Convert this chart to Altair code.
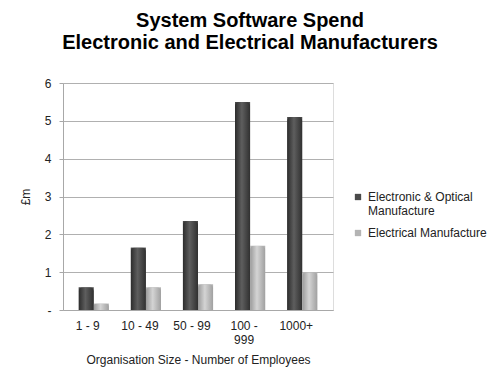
import altair as alt
import pandas as pd

categories = ["1 - 9", "10 - 49", "50 - 99", "100 - 999", "1000+"]
series = ["Electronic & Optical Manufacture", "Electrical Manufacture"]
electronic = [0.6, 1.65, 2.35, 5.5, 5.1]
electrical = [0.17, 0.6, 0.68, 1.7, 1.0]

rows = []
for c, a, b in zip(categories, electronic, electrical):
    rows.append({"size": c, "series": series[0], "value": a})
    rows.append({"size": c, "series": series[1], "value": b})
df = pd.DataFrame(rows)

FONT = "Liberation Sans"

x_enc = alt.X("size:N", sort=categories, title="Organisation Size - Number of Employees",
              scale=alt.Scale(paddingInner=0.42, paddingOuter=0.3),
              axis=alt.Axis(labelAngle=0, labelFontSize=12, labelColor="#222222", labelFont=FONT,
                            titleFontSize=12, titleFont=FONT, titleColor="#222222", titleFontWeight="normal",
                            ticks=False, domainColor="#a8a8a8", labelPadding=10, titlePadding=9,
                            labelOffset=-6,
                            labelExpr="datum.label == '100 - 999' ? ['100 -', '999'] : datum.label"))
y_enc = alt.Y("value:Q", title="£m",
              scale=alt.Scale(domain=[0, 6]),
              axis=alt.Axis(values=[0, 1, 2, 3, 4, 5, 6], labelFontSize=12, labelColor="#222222",
                            labelFont=FONT, titleFont=FONT, titleFontSize=12, titleColor="#222222",
                            titleFontWeight="normal", titlePadding=12, ticks=True, tickSize=4,
                            tickColor="#a8a8a8", domainColor="#a8a8a8", gridColor="#b0b0b0",
                            labelPadding=8,
                            labelExpr="datum.value == 0 ? '-' : datum.label"))
xo = alt.XOffset("series:N", sort=series, scale=alt.Scale(paddingInner=0))

base = alt.Chart(df).encode(x=x_enc, y=y_enc, xOffset=xo)

legend_layer = base.mark_bar().encode(
    color=alt.Color("series:N", sort=series, title=None,
                    scale=alt.Scale(domain=series, range=["#4a4a4a", "#b4b4b4"]),
                    legend=alt.Legend(orient="none", legendX=289, legendY=108, symbolType="square",
                                      symbolSize=40, labelFontSize=12, labelFont=FONT,
                                      labelColor="#222222", rowPadding=10, symbolStrokeWidth=0,
                                      labelExpr="datum.label == 'Electronic & Optical Manufacture' ? ['Electronic & Optical', 'Manufacture'] : datum.label"))
)

dark_grad = alt.Gradient(gradient="linear", x1=0, x2=1, y1=0, y2=0,
                         stops=[alt.GradientStop(color="#2c2c2c", offset=0),
                                alt.GradientStop(color="#5e5e5e", offset=0.45),
                                alt.GradientStop(color="#303030", offset=1)])
light_grad = alt.Gradient(gradient="linear", x1=0, x2=1, y1=0, y2=0,
                          stops=[alt.GradientStop(color="#9a9a9a", offset=0),
                                 alt.GradientStop(color="#d4d4d4", offset=0.45),
                                 alt.GradientStop(color="#a0a0a0", offset=1)])

dark_layer = base.transform_filter(alt.datum.series == series[0]).mark_bar(
    color=dark_grad, cornerRadiusTopLeft=4, cornerRadiusTopRight=4)
light_layer = base.transform_filter(alt.datum.series == series[1]).mark_bar(
    color=light_grad, cornerRadiusTopLeft=4, cornerRadiusTopRight=4)

chart = alt.layer(legend_layer, dark_layer, light_layer).properties(
    width=270, height=227,
    autosize=alt.AutoSizeParams(type="none"),
    padding={"left": 55, "top": 75, "right": 159, "bottom": 67},
    title=alt.Title(["System Software Spend", "Electronic and Electrical Manufacturers"],
                    fontSize=20, font=FONT, fontWeight="bold", color="#000000",
                    anchor="middle", dx=52, offset=24, lineHeight=22),
).configure_view(stroke=None).configure(background="white")

chart.save("out.html", embed_options={"renderer": "svg", "actions": False})
